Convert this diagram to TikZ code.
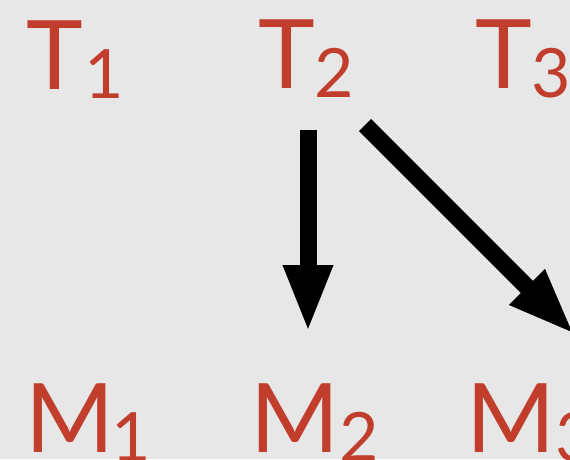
\documentclass[tikz,border=0pt]{standalone}
\usepackage{fontspec}
\setmainfont{Lato}
\usetikzlibrary{arrows.meta}
\definecolor{slidebg}{RGB}{231,231,231}
\definecolor{labred}{RGB}{193,62,45}
\newcommand{\subn}[1]{\raisebox{-9pt}{\fontsize{68}{68}\selectfont #1}}
\begin{document}
\begin{tikzpicture}[x=1pt,y=-1pt,
  lab/.style={anchor=base west,inner sep=0pt,text=labred,font=\fontsize{96}{96}\selectfont},
  arr/.style={line width=17pt,-{Triangle[width=45pt,length=68pt]}}]
\useasboundingbox (0,0) rectangle (570,459);
\clip (0,0) rectangle (570,459);
\fill[slidebg] (0,0) rectangle (570,459);
\node[lab] (T1) at (26,89) {T\kern2pt\subn{1}};
\node[lab] (T2) at (258,88) {T\subn{2}};
\node[lab] (T3) at (475,88) {T\subn{3}};
\node[lab] (M1) at (25,452) {M\kern-3pt\subn{1}};
\node[lab] (M2) at (250,452) {M\subn{2}};
\node[lab] (M3) at (466,452) {M\subn{3}};
\coordinate (a1) at (308,130);
\coordinate (b1) at (308,333);
\coordinate (a2) at (365,125);
\coordinate (b2) at (575,335);
\draw[arr] (a1) -- (b1);
\draw[arr] (a2) -- (b2);
\end{tikzpicture}
\end{document}
